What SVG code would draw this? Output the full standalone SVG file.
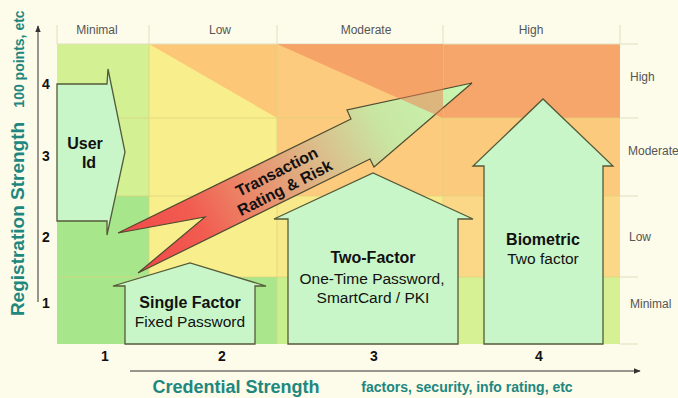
<svg xmlns="http://www.w3.org/2000/svg" width="678" height="398" viewBox="0 0 678 398">
  <defs>
    <linearGradient id="riskGrad" gradientUnits="userSpaceOnUse" x1="138" y1="273" x2="472" y2="83">
      <stop offset="0" stop-color="#f04848"/>
      <stop offset="0.2" stop-color="#f25c50"/>
      <stop offset="0.36" stop-color="#ea8a6a"/>
      <stop offset="0.56" stop-color="#dcbc8a"/>
      <stop offset="0.74" stop-color="#c8e6a2"/>
      <stop offset="1" stop-color="#c8f8b2"/>
    </linearGradient>
    <marker id="axisHead" viewBox="0 0 10 10" refX="9" refY="5" markerWidth="7" markerHeight="7" orient="auto" markerUnits="userSpaceOnUse">
      <path d="M0,1 L10,5 L0,9 Z" fill="#333"/>
    </marker>
  </defs>
  <style>
    .shape { fill: #c9f6c8; stroke: #555a38; stroke-width: 1.3; stroke-linejoin: miter; }
    .grid { stroke: #ddd27a; stroke-width: 1; fill: none; opacity: 0.7; }
    .hdr { stroke: #e2dfbf; stroke-width: 1; fill: none; }
    .lvl { font-family: "Liberation Sans", Arial, sans-serif; font-size: 12px; fill: #555; }
    .num { font-family: "Liberation Sans", Arial, sans-serif; font-size: 14px; font-weight: bold; fill: #111; text-anchor: middle; }
    .ttl { font-family: "Liberation Sans", Arial, sans-serif; font-size: 16px; font-weight: bold; fill: #111; text-anchor: middle; }
    .sub { font-family: "Liberation Sans", Arial, sans-serif; font-size: 15.5px; fill: #111; text-anchor: middle; }
    .axis-title { font-family: "Liberation Sans", Arial, sans-serif; font-weight: bold; fill: #20877f; }
    .axis { stroke: #333; stroke-width: 1; fill: none; }
  </style>

  <!-- page -->
  <rect x="0" y="0" width="678" height="398" fill="#fdfbe9"/>

  <!-- rating matrix -->
  <g id="matrix">
    <!-- column 1 -->
    <rect x="57" y="44" width="92" height="152" fill="#d3f093"/>
    <rect x="57" y="196" width="92" height="148" fill="#a8e68c"/>
    <!-- column 2 -->
    <rect x="149" y="44" width="128" height="233" fill="#f8ef8c"/>
    <polygon points="149,44 277,44 277,118" fill="#fcc878"/>
    <rect x="149" y="277" width="128" height="67" fill="#a9e68c"/>
    <!-- column 3 -->
    <rect x="277" y="44" width="166" height="152" fill="#fccb7e"/>
    <rect x="277" y="196" width="166" height="81" fill="#f8e98a"/>
    <rect x="277" y="277" width="166" height="67" fill="#c9ee8e"/>
    <!-- column 4 -->
    <rect x="443" y="44" width="177" height="74" fill="#f6a66a"/>
    <rect x="443" y="118" width="177" height="78" fill="#fcca7c"/>
    <rect x="443" y="196" width="177" height="81" fill="#fbd888"/>
    <rect x="443" y="277" width="177" height="67" fill="#d6f094"/>

    <!-- cell borders -->
    <path class="grid" d="M57,118 H620 M57,196 H620 M57,277 H620 M149,44 V344 M277,44 V344 M443,44 V344"/>
    <path class="hdr" d="M57,25 V44 M149,25 V44 M277,25 V44 M443,25 V44 M620,25 V44 M57,44 H638 M620,118 H638 M620,196 H638 M620,277 H638 M620,344 H638"/>

    <!-- column headings -->
    <text class="lvl" x="97" y="34" text-anchor="middle">Minimal</text>
    <text class="lvl" x="220" y="34" text-anchor="middle">Low</text>
    <text class="lvl" x="366" y="34" text-anchor="middle">Moderate</text>
    <text class="lvl" x="531" y="34" text-anchor="middle">High</text>
    <!-- row headings -->
    <text class="lvl" x="630" y="81">High</text>
    <text class="lvl" x="628" y="155" font-size="11.5">Moderate</text>
    <text class="lvl" x="629" y="241">Low</text>
    <text class="lvl" x="630" y="308">Minimal</text>
  </g>

  <!-- transaction rating & risk bolt -->
  <g id="transaction">
    <polygon points="138,273 370,159 374,167 472,83 347,110 351,119 118,233 205,217" fill="url(#riskGrad)" stroke="#4f4c30" stroke-width="1.2" stroke-linejoin="miter"/>
    <g transform="translate(282,182) rotate(-27)">
      <text class="ttl" x="0" y="-6">Transaction</text>
      <text class="ttl" x="0" y="12">Rating &amp; Risk</text>
    </g>
  </g>

  <!-- moderate/high shading laid over the bolt head -->
  <polygon points="277,44 443,44 443,118" fill="#f07c50" opacity="0.5"/>

  <!-- credential nodes -->
  <g id="user-id">
    <polygon class="shape" points="57,84 107,84 108,69 125,152 107,235 107,221 57,221"/>
    <text class="ttl" x="85" y="149">User</text>
    <text class="ttl" x="89" y="168">Id</text>
  </g>

  <g id="single-factor">
    <polygon class="shape" points="125,344 125,286 113,286 190,263 266,286 255,286 255,344"/>
    <text class="ttl" x="190" y="308">Single Factor</text>
    <text class="sub" x="190" y="327">Fixed Password</text>
  </g>

  <g id="two-factor">
    <polygon class="shape" points="288,344 288,219 274,219 373,173 473,219 458,219 458,344"/>
    <text class="ttl" x="373" y="263">Two-Factor</text>
    <text class="sub" x="372" y="284">One-Time Password,</text>
    <text class="sub" x="373" y="303">SmartCard / PKI</text>
  </g>

  <g id="biometric">
    <polygon class="shape" points="484,344 484,166 473,166 543,99 613,166 603,166 603,344"/>
    <text class="ttl" x="543" y="245">Biometric</text>
    <text class="sub" x="543" y="264">Two factor</text>
  </g>

  <!-- axes -->
  <g id="axes">
    <line class="axis" x1="38" y1="302" x2="38" y2="26" marker-end="url(#axisHead)"/>
    <line class="axis" x1="130" y1="371" x2="640" y2="371" marker-end="url(#axisHead)"/>

    <text class="num" x="46" y="89">4</text>
    <text class="num" x="46" y="161">3</text>
    <text class="num" x="46" y="242">2</text>
    <text class="num" x="46" y="308">1</text>

    <text class="num" x="105" y="361">1</text>
    <text class="num" x="222" y="361">2</text>
    <text class="num" x="374" y="361">3</text>
    <text class="num" x="539" y="361">4</text>

    <text class="axis-title" font-size="19" text-anchor="middle" transform="translate(23.5,219) rotate(-90)">Registration Strength</text>
    <text class="axis-title" font-size="14" text-anchor="middle" transform="translate(23.5,59) rotate(-90)">100 points, etc</text>
    <text class="axis-title" font-size="18" x="236" y="393" text-anchor="middle">Credential Strength</text>
    <text class="axis-title" font-size="14" x="467" y="392" text-anchor="middle">factors, security, info rating, etc</text>
  </g>
</svg>
